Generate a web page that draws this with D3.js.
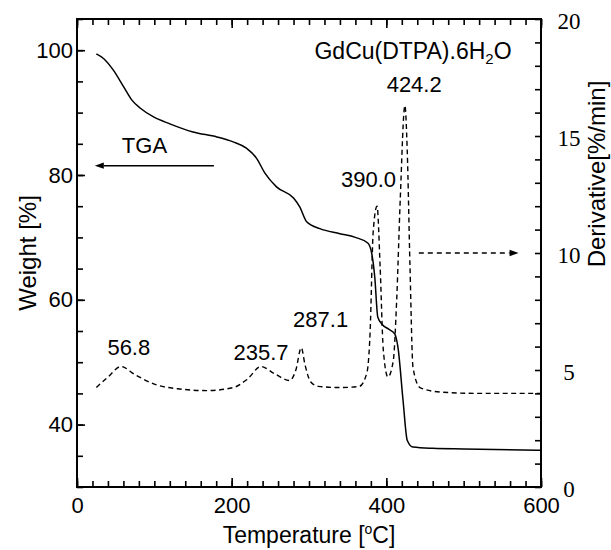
<!DOCTYPE html>
<html><head><meta charset="utf-8">
<script src="https://cdn.jsdelivr.net/npm/d3@7"></script>
<style>
body{margin:0;background:#fff}
text{font-family:"Liberation Sans",Arial,Helvetica,sans-serif;fill:#000}
</style>
</head><body><svg id="c" width="611" height="550" xmlns="http://www.w3.org/2000/svg"></svg>
<script>
// ---- data ----
const tgaTemp   = [25, 35, 47, 60, 71, 82, 99, 120, 150, 181, 202, 219, 232, 243, 258, 280, 288, 297, 314, 340, 360, 376, 381, 385, 389, 395, 403, 411, 415, 421.6, 427, 434.5, 460, 500, 599];
const tgaWeight = [99.4, 98.6, 96.8, 94.2, 92.0, 90.7, 89.3, 88.2, 86.9, 86.1, 85.3, 84.3, 82.7, 80.3, 78.1, 76.3, 74.9, 72.5, 71.4, 70.6, 70.0, 69.1, 67.5, 63.7, 57.2, 56.0, 55.3, 54.5, 52.4, 43.9, 37.5, 36.4, 36.2, 36.1, 35.9];

const dtgTemp  = [25, 40, 57, 75, 103, 130, 168, 202, 220, 238, 255, 275, 283, 290, 295, 302, 312, 340, 365, 375, 379, 383, 388, 392, 396, 402, 409, 413.4, 418, 424, 427, 430.6, 434.5, 443.5, 469, 520, 599];
const dtgValue = [4.25, 4.7, 5.15, 4.8, 4.36, 4.2, 4.12, 4.25, 4.6, 5.15, 4.85, 4.55, 5.0, 5.95, 5.2, 4.5, 4.3, 4.25, 4.3, 4.9, 6.6, 10.9, 12.0, 9.4, 5.9, 4.7, 5.4, 8.0, 12.3, 16.3, 14.4, 9.4, 5.1, 4.25, 4.06, 4.0, 4.0];

const xTicks      = [0, 200, 400, 600];
const weightTicks = [40, 60, 80, 100];
const derivTicks  = [0, 5, 10, 15, 20];

const peakLabels     = ["56.8", "235.7", "287.1", "390.0", "424.2"];
const peakLabelTemp  = [67, 238, 315, 377, 436];
const peakLabelValue = [5.64, 5.43, 6.84, 12.82, 16.88];

const tgaArrowTemp = [177, 23];
const tgaArrowWeight = 81.5;
const dtgArrowTemp = [442, 571];
const dtgArrowValue = 10;

// ---- layout ----
const svg = d3.select("#c");
const L = 77, R = 541, T = 19, B = 487;
const x  = d3.scaleLinear().domain([0, 600]).range([L, R]);
const yW = d3.scaleLinear().domain([30, 105]).range([B, T]);
const yD = d3.scaleLinear().domain([0, 20]).range([B, T]);

const minorX = d3.range(0, 601, 20);
const minorW = d3.range(30, 106, 5);
const minorD = d3.range(0, 21, 1);

// frame
svg.append("rect").attr("x",L).attr("y",T).attr("width",R-L).attr("height",B-T)
  .attr("fill","none").attr("stroke","#000").attr("stroke-width",2);

// ---- inward tick marks through d3 axes ----
function tickStyle(g){ g.select(".domain").remove(); g.selectAll("line").attr("stroke","#000").attr("stroke-width",1.6); }

svg.append("g").attr("transform",`translate(0,${B})`)
  .call(d3.axisBottom(x).tickValues(minorX).tickSizeInner(-6).tickSizeOuter(0).tickFormat(""))
  .call(tickStyle).call(g => g.selectAll("text").remove());
svg.append("g").attr("transform",`translate(0,${B})`)
  .call(d3.axisBottom(x).tickValues(xTicks).tickSizeInner(-9).tickSizeOuter(0).tickPadding(10).tickFormat(d3.format("d")))
  .call(tickStyle)
  .call(g => g.selectAll("text").style("font-size","22px").attr("font-family",null));

svg.append("g").attr("transform",`translate(0,${T})`)
  .call(d3.axisTop(x).tickValues(minorX).tickSizeInner(-6).tickSizeOuter(0).tickFormat(""))
  .call(tickStyle).call(g => g.selectAll("text").remove());
svg.append("g").attr("transform",`translate(0,${T})`)
  .call(d3.axisTop(x).tickValues(xTicks).tickSizeInner(-9).tickSizeOuter(0).tickFormat(""))
  .call(tickStyle).call(g => g.selectAll("text").remove());

svg.append("g").attr("transform",`translate(${L},0)`)
  .call(d3.axisLeft(yW).tickValues(minorW).tickSizeInner(-6).tickSizeOuter(0).tickFormat(""))
  .call(tickStyle).call(g => g.selectAll("text").remove());
svg.append("g").attr("transform",`translate(${L},0)`)
  .call(d3.axisLeft(yW).tickValues(weightTicks).tickSizeInner(-8).tickSizeOuter(0).tickPadding(4).tickFormat(d3.format("d")))
  .call(tickStyle)
  .call(g => g.selectAll("text").style("font-size","22px").attr("font-family",null));

svg.append("g").attr("transform",`translate(${R},0)`)
  .call(d3.axisRight(yD).tickValues(minorD).tickSizeInner(-6).tickSizeOuter(0).tickPadding(28).tickFormat(d3.format("d")))
  .call(tickStyle)
  .call(g => g.selectAll(".tick").filter(d => !derivTicks.includes(d)).select("text").remove())
  .call(g => g.selectAll("text").style("font-size","23px").style("font-family","'Liberation Serif','Times New Roman',serif")
      .attr("text-anchor","middle").attr("dy","0.42em"));

// ---- curves ----
const tgaData = tgaTemp.map((t,i)=>[t,tgaWeight[i]]);
const dtgData = dtgTemp.map((t,i)=>[t,dtgValue[i]]);

svg.append("path").datum(tgaData)
  .attr("fill","none").attr("stroke","#000").attr("stroke-width",1.5)
  .attr("d", d3.line().x(d=>x(d[0])).y(d=>yW(d[1])).curve(d3.curveMonotoneX));

svg.append("path").datum(dtgData)
  .attr("fill","none").attr("stroke","#000").attr("stroke-width",1.4)
  .attr("stroke-dasharray","5,3.5")
  .attr("d", d3.line().x(d=>x(d[0])).y(d=>yD(d[1])).curve(d3.curveMonotoneX));

// ---- arrows ----
function arrow(x1, x2, y, dashed){
  const dir = Math.sign(x2 - x1);
  const head = 9, hw = 3.2;
  svg.append("line").attr("x1",x1).attr("x2",x2 - dir*head).attr("y1",y).attr("y2",y)
    .attr("stroke","#000").attr("stroke-width",1.5).attr("stroke-dasharray",dashed ? "5,4" : null);
  svg.append("path").attr("d",`M${x2},${y}L${x2-dir*head},${y-hw}L${x2-dir*head},${y+hw}Z`).attr("fill","#000");
}
arrow(x(tgaArrowTemp[0]), x(tgaArrowTemp[1]), yW(tgaArrowWeight), false);
arrow(x(dtgArrowTemp[0]), x(dtgArrowTemp[1]), yD(dtgArrowValue), true);

// ---- labels ----
svg.selectAll("text.peak").data(peakLabels).enter().append("text").attr("class","peak")
  .attr("x",(d,i)=>x(peakLabelTemp[i])).attr("y",(d,i)=>yD(peakLabelValue[i]))
  .attr("text-anchor","middle").style("font-size","22px").text(d=>d);

svg.append("text").attr("x", x(58)).attr("y", yW(83.5)).style("font-size","22px").text("TGA");

const title = svg.append("text").attr("x", x(434.5)).attr("y", yD(18.3)).attr("text-anchor","middle").style("font-size","23px");
title.append("tspan").text("GdCu(DTPA).6H");
title.append("tspan").attr("dy",5).style("font-size","15px").text("2");
title.append("tspan").attr("dy",-5).text("O");

// axis titles
const xt = svg.append("text").attr("x",(L+R)/2).attr("y",543).attr("text-anchor","middle").style("font-size","23px");
xt.append("tspan").text("Temperature [");
xt.append("tspan").attr("dy",-9).style("font-size","14px").text("o");
xt.append("tspan").attr("dy",9).text("C]");

svg.append("text").attr("transform",`translate(36,${(T+B)/2}) rotate(-90)`).attr("text-anchor","middle")
  .style("font-size","24px").text("Weight [%]");

svg.append("text").attr("transform",`translate(605,174) rotate(-90)`).attr("text-anchor","middle")
  .style("font-size","24px").text("Derivative[%/min]");
</script>
</body></html>
